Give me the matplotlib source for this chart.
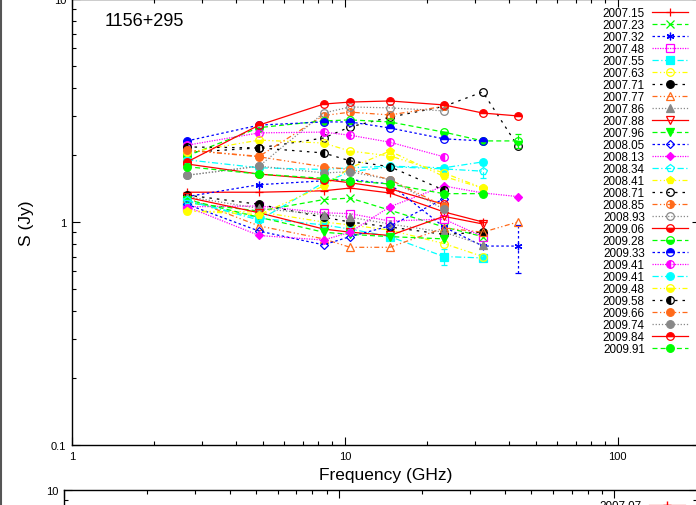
import numpy as np
import matplotlib.pyplot as plt
from matplotlib.lines import Line2D
from matplotlib.ticker import NullFormatter

plt.rcParams['font.family'] = ['Liberation Sans', 'DejaVu Sans']

nan = np.nan

# observing frequencies (GHz)
freq = [2.64, 4.85, 8.35, 10.45, 14.6, 23.05, 32.0, 43.0]

epochs = ['2007.15', '2007.23', '2007.32', '2007.48', '2007.55', '2007.63',
          '2007.71', '2007.77', '2007.86', '2007.88', '2007.96', '2008.05',
          '2008.13', '2008.34', '2008.41', '2008.71', '2008.85', '2008.93',
          '2009.06', '2009.28', '2009.33', '2009.41', '2009.41', '2009.48',
          '2009.58', '2009.66', '2009.74', '2009.84', '2009.91']

# flux densities (Jy) per epoch
s2007_15 = [1.36, 1.36, 1.38, 1.42, 1.35, 1.11, 1.00, nan]
s2007_23 = [1.22, 1.12, 1.26, 1.28, 1.13, 0.95, 0.86, nan]
s2007_32 = [1.30, 1.47, 1.53, 1.55, 1.48, 0.95, 0.78, 0.78]
s2007_48 = [1.17, 1.18, 1.10, 1.09, 1.01, 1.03, 0.86, nan]
s2007_55 = [1.24, 1.04, 0.97, 0.93, 0.86, 0.70, 0.69, nan]
s2007_63 = [1.12, 1.11, 1.00, 0.97, 0.92, 0.80, 0.70, nan]
s2007_71 = [1.32, 1.20, 1.05, 1.00, 0.95, 0.88, 0.90, nan]
s2007_77 = [1.28, 0.96, 0.84, 0.77, 0.77, 0.94, 0.90, 1.00]
s2007_86 = [1.30, 1.15, 1.08, 1.05, 0.98, 0.90, 0.79, nan]
s2007_88 = [1.29, 1.10, 0.93, 0.90, 0.87, 1.06, 0.98, nan]
s2007_96 = [1.26, 1.05, 0.90, 0.88, 0.86, 0.84, nan, nan]
s2008_05 = [1.20, 0.91, 0.79, 0.86, 0.96, 1.27, nan, nan]
s2008_13 = [1.17, 0.87, 0.83, 0.90, 1.17, 1.45, 1.35, 1.30]
s2008_34 = [1.25, 1.02, 1.50, 1.68, 1.77, 1.73, 1.69, nan]
s2008_41 = [1.12, 1.08, 1.45, 1.75, 2.08, 1.60, 1.42, nan]
s2008_71 = [2.05, 2.15, 2.38, 2.67, 2.95, 3.30, 3.83, 2.19]
s2008_85 = [2.10, 1.97, 3.00, 3.11, 3.02, 3.30, nan, nan]
s2008_93 = [1.62, 1.78, 3.08, 3.28, 3.25, 3.15, nan, nan]
s2009_06 = [1.82, 1.64, 1.55, 1.50, 1.41, 1.20, nan, nan]
s2009_28 = [1.98, 2.65, 2.84, 2.87, 2.81, 2.53, 2.31, 2.31]
s2009_33 = [2.31, 2.72, 2.81, 2.81, 2.64, 2.36, 2.31, nan]
s2009_41a = [2.21, 2.51, 2.53, 2.45, 2.28, 1.96, nan, nan]
s2009_41b = [1.90, 1.75, 1.72, 1.75, 1.78, 1.75, 1.86, nan]
s2009_48 = [2.05, 2.33, 2.26, 2.08, 1.98, 1.66, 1.42, nan]
s2009_58 = [2.17, 2.15, 2.04, 1.88, 1.77, 1.39, nan, nan]
s2009_66 = [2.10, 1.96, 1.77, 1.72, 1.55, 1.18, nan, nan]
s2009_74 = [1.62, 1.78, 1.66, 1.68, 1.55, 1.14, nan, nan]
s2009_84 = [1.86, 2.72, 3.38, 3.45, 3.49, 3.35, 3.08, 2.99]
s2009_91 = [1.77, 1.64, 1.57, 1.53, 1.48, 1.34, 1.34, nan]

fluxes = [s2007_15, s2007_23, s2007_32, s2007_48, s2007_55, s2007_63,
          s2007_71, s2007_77, s2007_86, s2007_88, s2007_96, s2008_05,
          s2008_13, s2008_34, s2008_41, s2008_71, s2008_85, s2008_93,
          s2009_06, s2009_28, s2009_33, s2009_41a, s2009_41b, s2009_48,
          s2009_58, s2009_66, s2009_74, s2009_84, s2009_91]

# the few error bars that stick out of the symbols (Jy)
e2007_32 = [0, 0, 0, 0, 0, 0, 0, 0.19]
e2007_55 = [0, 0, 0, 0, 0, 0.06, 0, 0]
e2008_34 = [0, 0, 0, 0, 0, 0, 0.12, 0]
e2009_28 = [0, 0, 0, 0, 0, 0, 0, 0.16]
errors = {2: e2007_32, 4: e2007_55, 13: e2008_34, 19: e2009_28}

# gnuplot-like style cycle
colors = ['#ff0000', '#00ff00', '#0000ff', '#ff00ff', '#00ffff', '#ffff00',
          '#000000', '#ff6a1a', '#888888']
linestyles = ['-', (0, (4, 2.5)), (0, (2, 2)), (0, (1, 1)), (0, (5, 2, 1, 2)),
              (0, (4, 2, 1, 2, 1, 2)), (0, (2, 4)), (0, (4, 2, 1, 2, 1, 2)),
              (0, (1, 1.5))]
markers = ['+', 'x', (6, 2, 0), 's', 's', 'o', 'o', '^', '^', 'v', 'v', 'D',
           'D', 'p', 'p'] + ['o'] * 14
fills = ['full', 'full', 'full', 'none', 'full', 'none', 'full', 'none', 'full',
         'none', 'full', 'none', 'full', 'none', 'full', 'none', 'right', 'none',
         'bottom', 'bottom', 'top', 'left', 'full', 'bottom', 'left', 'full',
         'full', 'top', 'full']

fig = plt.figure(figsize=(6.96, 5.06), dpi=100)
ax = fig.add_axes([72/696, 60/506, 628/696, 446/506])

for i, s in enumerate(fluxes):
    ok = [not np.isnan(v) for v in s]
    x = [f for f, k in zip(freq, ok) if k]
    y = [v for v, k in zip(s, ok) if k]
    c = colors[i % 9]
    ls = linestyles[i % 9]
    fs = fills[i]
    ms = 4.5 if markers[i] == 'D' else 5.5
    if i in errors:
        e = [v for v, k in zip(errors[i], ok) if k]
        eb = ax.errorbar(x, y, yerr=e, fmt='none', ecolor=c, elinewidth=0.9,
                         capsize=2, capthick=0.9)
        eb[2][0].set_linestyle(ls)
    ax.plot(x, y, color=c, lw=0.9, linestyle=ls,
            marker=markers[i], ms=ms, mew=0.9, mec=c,
            mfc='none' if fs == 'none' else c,
            fillstyle=fs, markerfacecoloralt='none', label=epochs[i])

def style_axes(a):
    a.set_xscale('log')
    a.set_yscale('log')
    a.set_xlim(1, 200)
    a.set_ylim(0.1, 10)
    a.set_xticks([1, 10, 100])
    a.set_xticklabels(['1', '10', '100'])
    a.set_yticks([0.1, 1, 10])
    a.set_yticklabels(['0.1', '1', '10'])
    a.xaxis.set_minor_formatter(NullFormatter())
    a.yaxis.set_minor_formatter(NullFormatter())
    a.tick_params(which='both', direction='in', top=True, right=True,
                  labelsize=8, width=0.8)
    a.tick_params(which='major', length=6, pad=4)
    a.tick_params(which='minor', length=3)
    for sp in a.spines.values():
        sp.set_linewidth(1.0)

style_axes(ax)
ax.set_xlabel('Frequency (GHz)', fontsize=12.5, labelpad=5)
ax.set_ylabel('S (Jy)', fontsize=12.5, labelpad=12)
fig.text(105/696, 1 - 22/506, '1156+295', fontsize=13, va='center')

ax.legend(loc='upper right', bbox_to_anchor=(688/696, 1 - 8/506),
          bbox_transform=fig.transFigure, frameon=False, markerfirst=False,
          fontsize=8.4, handlelength=3.1, handletextpad=0.6, labelspacing=0.0,
          borderpad=0, borderaxespad=0)

# next panel, only its top edge is visible
ax2 = fig.add_axes([64/696, (15 - 446)/506, 633/696, 446/506])
style_axes(ax2)
ax2.tick_params(labelbottom=False)
ax2.plot([], [], color='#ff0000', lw=0.9, marker='+', ms=5.5, label='2007.07')
ax2.legend(loc='upper right', bbox_to_anchor=(685/696, 5/506),
           bbox_transform=fig.transFigure, frameon=False, markerfirst=False,
           fontsize=8.4, handlelength=3.1, handletextpad=0.6,
           borderpad=0, borderaxespad=0)

fig.add_artist(Line2D([1/696, 1/696], [0, 1], color='#555555', lw=1.5))

fig.savefig('out.png', dpi=100)
